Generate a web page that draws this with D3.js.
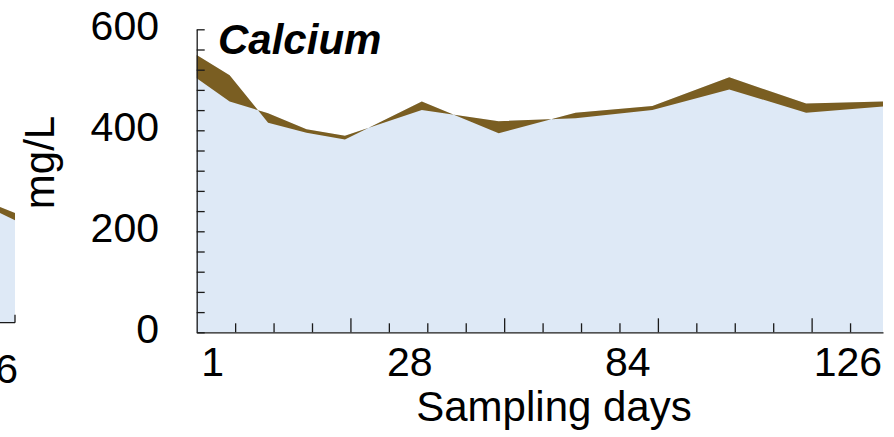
<!DOCTYPE html>
<html>
<head>
<meta charset="utf-8">
<script src="https://cdn.jsdelivr.net/npm/d3@7"></script>
<style>
  body { margin: 0; background: #fff; }
  svg { display: block; }
  text { font-family: "Liberation Sans", Arial, Helvetica, sans-serif; fill: #000; }
</style>
</head>
<body>
<svg id="chart" width="894" height="437"></svg>
<script>
// Calcium concentration (mg/L) on each sampling day, two series
const days     = [1, 7, 14, 21, 28, 42, 56, 70, 84, 98, 112, 126];
const calciumA = [549, 509, 415, 395, 382, 457, 394, 435, 448, 505, 453, 457];
const calciumB = [503, 457, 434, 402, 389, 440, 418, 424, 440, 481, 435, 447];

// Axis labels
const yTickValues = [0, 200, 400, 600];
const xTickLabels = ["1", "28", "84", "126"];

// Tail of the neighbouring panel on the left
const neighbourDays = [112, 126];
const neighbourA    = [280, 217];
const neighbourB    = [277, 203];
const neighbourTickLabel = "126";

const BLUE = "#dee9f6";
const BROWN = "#7a5e22";
const AXIS = "#1a1a1a";

const svg = d3.select("#chart");

// ---------- main panel ----------
const x = d3.scaleLinear().domain([1, 126]).range([196.7, 883]);
const y = d3.scaleLinear().domain([0, 600]).range([332.3, 29.3]);

const rows = days.map((d, i) => ({ day: d, a: calciumA[i], b: calciumB[i] }));

const areaA = d3.area().x(d => x(d.day)).y0(y(0)).y1(d => y(d.a));
const areaB = d3.area().x(d => x(d.day)).y0(y(0)).y1(d => y(d.b));
const band  = d3.area().x(d => x(d.day)).y0(d => y(d.a)).y1(d => y(d.b));

const plot = svg.append("g");
plot.append("path").attr("d", areaA(rows)).attr("fill", BLUE);
plot.append("path").attr("d", areaB(rows)).attr("fill", BLUE);
plot.append("path").attr("d", band(rows)).attr("fill", BROWN);

// y axis: minor ticks every 40 mg/L, pointing inward
const yAxis = d3.axisLeft(y)
  .tickValues(d3.range(0, 601, 40))
  .tickSizeInner(-8).tickSizeOuter(0)
  .tickFormat("");
const gy = svg.append("g").attr("transform", `translate(${x.range()[0]},0)`).call(yAxis);
gy.selectAll("path, line").attr("stroke", AXIS).attr("stroke-width", 1.3);

// x axis: weekly ticks, longer every four weeks
const weekTicks = d3.range(8, 126, 7);
const xAxis = d3.axisBottom(x)
  .tickValues(weekTicks)
  .tickSizeInner(-9).tickSizeOuter(0)
  .tickFormat("");
const gx = svg.append("g").attr("transform", `translate(0,${y(0)})`).call(xAxis);
gx.selectAll("path, line").attr("stroke", AXIS).attr("stroke-width", 1.3);
gx.selectAll(".tick line").attr("y2", d => ((d - 1) % 28 === 0) ? -14 : -9);

// y tick labels
svg.append("g").selectAll("text")
  .data(yTickValues).join("text")
  .attr("x", 159)
  .attr("y", d => y(d) + 10.7)
  .attr("text-anchor", "end")
  .attr("font-size", 41)
  .text(d => d);

// x tick labels
const xLabelDays = [3.9, 39.8, 79.5, 119.6];
svg.append("g").selectAll("text")
  .data(xTickLabels).join("text")
  .attr("x", (d, i) => x(xLabelDays[i]))
  .attr("y", 376)
  .attr("text-anchor", "middle")
  .attr("font-size", 41)
  .text(d => d);

// axis titles
svg.append("text")
  .attr("transform", "translate(54,162.5) rotate(-90)")
  .attr("text-anchor", "middle")
  .attr("font-size", 42)
  .text("mg/L");

svg.append("text")
  .attr("x", 554).attr("y", 421)
  .attr("text-anchor", "middle")
  .attr("font-size", 42)
  .text("Sampling days");

// panel title
svg.append("text")
  .attr("x", 218).attr("y", 54)
  .attr("font-size", 42)
  .attr("font-weight", "bold")
  .attr("font-style", "italic")
  .text("Calcium");

// ---------- neighbouring panel (right edge only) ----------
const xn = d3.scaleLinear().domain([1, 126]).range([15 - 686.3, 15]);
const yn = d3.scaleLinear().domain([0, 600]).range([322.7, 19.7]);
const nRows = neighbourDays.map((d, i) => ({ day: d, a: neighbourA[i], b: neighbourB[i] }));

const nAreaA = d3.area().x(d => xn(d.day)).y0(yn(0)).y1(d => yn(d.a));
const nAreaB = d3.area().x(d => xn(d.day)).y0(yn(0)).y1(d => yn(d.b));
const nBand  = d3.area().x(d => xn(d.day)).y0(d => yn(d.a)).y1(d => yn(d.b));
svg.append("path").attr("d", nAreaA(nRows)).attr("fill", BLUE);
svg.append("path").attr("d", nAreaB(nRows)).attr("fill", BLUE);
svg.append("path").attr("d", nBand(nRows)).attr("fill", BROWN);

svg.append("line")
  .attr("x1", xn(neighbourDays[0])).attr("x2", xn(126))
  .attr("y1", yn(0)).attr("y2", yn(0))
  .attr("stroke", AXIS).attr("stroke-width", 1.3);
svg.append("line")
  .attr("x1", xn(126)).attr("x2", xn(126))
  .attr("y1", yn(0)).attr("y2", yn(0) - 8)
  .attr("stroke", AXIS).attr("stroke-width", 1.3);

svg.append("text")
  .attr("x", xn(126) + 3).attr("y", 383)
  .attr("text-anchor", "end")
  .attr("font-size", 41)
  .text(neighbourTickLabel);
</script>
</body>
</html>
